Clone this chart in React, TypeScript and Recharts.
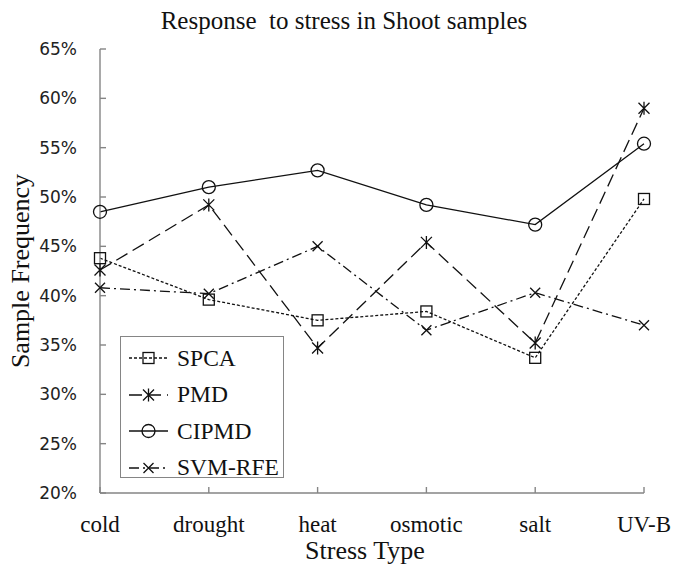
import { Legend, Line, LineChart, XAxis, YAxis } from "recharts";

const categories = ["cold", "drought", "heat", "osmotic", "salt", "UV-B"];
const spca = [43.8, 39.6, 37.5, 38.4, 33.7, 49.8];
const pmd = [42.6, 49.2, 34.7, 45.4, 35.2, 59.0];
const cipmd = [48.5, 51.0, 52.7, 49.2, 47.2, 55.4];
const svmRfe = [40.8, 40.2, 45.0, 36.5, 40.3, 37.0];
const yTicks = [20, 25, 30, 35, 40, 45, 50, 55, 60, 65];

const data = categories.map((name, i) => ({
  name,
  SPCA: spca[i],
  PMD: pmd[i],
  CIPMD: cipmd[i],
  "SVM-RFE": svmRfe[i],
}));

const SERIF = "'Liberation Serif', 'Times New Roman', serif";
const AXIS_GREY = "#858585";
const INK = "#111";

type Marker = "square" | "star" | "circle" | "cross";

function markerShape(kind: Marker, cx: number, cy: number, key?: string | number) {
  const common = { stroke: INK, strokeWidth: 1.3, fill: "none" };
  if (kind === "square") return <rect key={key} x={cx - 5.5} y={cy - 5.5} width={11} height={11} {...common} />;
  if (kind === "circle") return <circle key={key} cx={cx} cy={cy} r={6.5} {...common} />;
  if (kind === "cross")
    return (
      <path key={key} d={`M${cx - 5},${cy - 5}L${cx + 5},${cy + 5}M${cx - 5},${cy + 5}L${cx + 5},${cy - 5}`} {...common} />
    );
  return (
    <path
      key={key}
      d={`M${cx - 5.5},${cy - 5.5}L${cx + 5.5},${cy + 5.5}M${cx - 5.5},${cy + 5.5}L${cx + 5.5},${cy - 5.5}M${cx},${cy - 6.5}L${cx},${cy + 6.5}`}
      {...common}
    />
  );
}

const SERIES: { key: string; dash?: string; marker: Marker }[] = [
  { key: "SPCA", dash: "3 2", marker: "square" },
  { key: "PMD", dash: "13 6", marker: "star" },
  { key: "CIPMD", marker: "circle" },
  { key: "SVM-RFE", dash: "10 4 2 4", marker: "cross" },
];

function LegendBox() {
  return (
    <div
      style={{
        border: `1.5px solid ${AXIS_GREY}`,
        background: "#fff",
        width: 164,
        height: 142,
        boxSizing: "border-box",
        paddingTop: 3,
        fontFamily: SERIF,
      }}
    >
      {SERIES.map((s) => (
        <div key={s.key} style={{ display: "flex", alignItems: "center", height: 36.5 }}>
          <svg width={56} height={20} style={{ flex: "none" }}>
            <line x1={8} x2={47} y1={10} y2={10} stroke={INK} strokeWidth={1.3} strokeDasharray={s.dash} />
            {markerShape(s.marker, 27.5, 10)}
          </svg>
          <span style={{ fontSize: 23.5, color: "#111", lineHeight: 1 }}>{s.key}</span>
        </div>
      ))}
    </div>
  );
}

export default function App() {
  return (
    <div style={{ position: "absolute", left: 0, top: 0, width: 673, height: 564, background: "#fff" }}>
      <div
        style={{
          position: "absolute",
          left: 0,
          width: 688,
          top: 7,
          textAlign: "center",
          fontFamily: SERIF,
          fontSize: 25,
          whiteSpace: "pre",
          color: "#111",
        }}
      >
        {"Response  to stress in Shoot samples"}
      </div>
      <LineChart width={673} height={564} data={data} margin={{ top: 49, right: 29, bottom: 0, left: 0 }}>
        <XAxis
          dataKey="name"
          scale="point"
          padding={{ left: 0, right: 0 }}
          height={71}
          stroke={AXIS_GREY}
          strokeWidth={1.4}
          tickSize={-6}
          tickMargin={29}
          interval={0}
          tick={{ fill: INK, fontSize: 23, fontFamily: SERIF }}
          label={{ value: "Stress Type", position: "insideBottom", offset: 5, dx: -7, fill: INK, fontSize: 26, fontFamily: SERIF }}
        />
        <XAxis
          xAxisId="top"
          dataKey="name"
          orientation="top"
          scale="point"
          padding={{ left: 0, right: 0 }}
          height={0}
          stroke={AXIS_GREY}
          strokeWidth={1.4}
          tickSize={-6}
          interval={0}
          tickFormatter={() => ""}
        />
        <YAxis
          domain={[20, 65]}
          ticks={yTicks}
          width={100}
          stroke={AXIS_GREY}
          strokeWidth={1.4}
          tickSize={-6}
          tickMargin={29}
          interval={0}
          tickFormatter={(v: number) => `${v}%`}
          tick={{ fill: "#222", fontSize: 17, fontFamily: "'DejaVu Sans', sans-serif" }}
          label={{
            value: "Sample Frequency",
            angle: -90,
            position: "insideLeft",
            offset: 20,
            fill: INK,
            fontSize: 26,
            fontFamily: SERIF,
            style: { textAnchor: "middle" },
          }}
        />
        <YAxis
          yAxisId="right"
          orientation="right"
          domain={[20, 65]}
          ticks={yTicks}
          width={0}
          stroke={AXIS_GREY}
          strokeWidth={1.4}
          tickSize={-6}
          interval={0}
          tickFormatter={() => ""}
        />
        <Legend
          layout="horizontal"
          verticalAlign="middle"
          align="center"
          content={() => <LegendBox />}
          wrapperStyle={{ left: 120, top: 336, width: 164, height: 142 }}
        />
        {SERIES.map((s) => (
          <Line
            key={s.key}
            type="linear"
            dataKey={s.key}
            stroke={INK}
            strokeWidth={1.3}
            strokeDasharray={s.dash}
            isAnimationActive={false}
            activeDot={false}
            dot={(p: any) => markerShape(s.marker, p.cx, p.cy, `${s.key}-${p.index}`)}
          />
        ))}
      </LineChart>
    </div>
  );
}
